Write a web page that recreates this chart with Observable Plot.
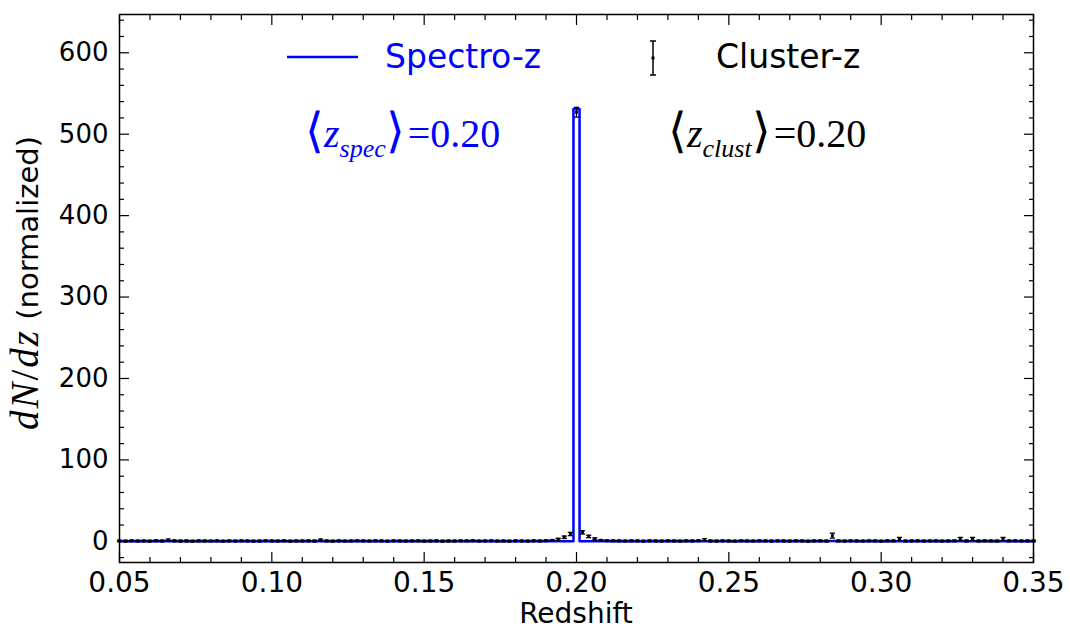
<!DOCTYPE html>
<html>
<head>
<meta charset="utf-8">
<script src="https://cdn.jsdelivr.net/npm/d3@7"></script>
<script src="https://cdn.jsdelivr.net/npm/@observablehq/plot@0.6"></script>
<style>
  html, body { margin: 0; padding: 0; background: white; }
  #wrap { position: relative; width: 1070px; height: 632px; }
  #overlay { position: absolute; left: 0; top: 0; pointer-events: none; }
</style>
</head>
<body>
<div id="wrap"></div>
<script>
// ---- data ----
const binCenters = [
  0.050,0.052,0.054,0.056,0.058,0.060,0.062,0.064,0.066,0.068,
  0.070,0.072,0.074,0.076,0.078,0.080,0.082,0.084,0.086,0.088,
  0.090,0.092,0.094,0.096,0.098,0.100,0.102,0.104,0.106,0.108,
  0.110,0.112,0.114,0.116,0.118,0.120,0.122,0.124,0.126,0.128,
  0.130,0.132,0.134,0.136,0.138,0.140,0.142,0.144,0.146,0.148,
  0.150,0.152,0.154,0.156,0.158,0.160,0.162,0.164,0.166,0.168,
  0.170,0.172,0.174,0.176,0.178,0.180,0.182,0.184,0.186,0.188,
  0.190,0.192,0.194,0.196,0.198,0.200,0.202,0.204,0.206,0.208,
  0.210,0.212,0.214,0.216,0.218,0.220,0.222,0.224,0.226,0.228,
  0.230,0.232,0.234,0.236,0.238,0.240,0.242,0.244,0.246,0.248,
  0.250,0.252,0.254,0.256,0.258,0.260,0.262,0.264,0.266,0.268,
  0.270,0.272,0.274,0.276,0.278,0.280,0.282,0.284,0.286,0.288,
  0.290,0.292,0.294,0.296,0.298,0.300,0.302,0.304,0.306,0.308,
  0.310,0.312,0.314,0.316,0.318,0.320,0.322,0.324,0.326,0.328,
  0.330,0.332,0.334,0.336,0.338,0.340,0.342,0.344,0.346,0.348,
  0.350
];
const binWidth = 0.002;

// Spectro-z normalized dN/dz (step histogram)
const spectroZ = [
  0,0,0,0,0,0,0,0,0,0,
  0,0,0,0,0,0,0,0,0,0,
  0,0,0,0,0,0,0,0,0,0,
  0,0,0,0,0,0,0,0,0,0,
  0,0,0,0,0,0,0,0,0,0,
  0,0,0,0,0,0,0,0,0,0,
  0,0,0,0,0,0,0,0,0,0,
  0,0,0,0,0,531,0,0,0,0,
  0,0,0,0,0,0,0,0,0,0,
  0,0,0,0,0,0,0,0,0,0,
  0,0,0,0,0,0,0,0,0,0,
  0,0,0,0,0,0,0,0.5,0,0,
  0,0,0,0,0,0,0,0,0,0,
  0,0,0,0,0,0,0,0,0,0,
  0,0,0,0,0,0,0,0,0,0,
  0
];

// Cluster-z normalized dN/dz and its errors
const clusterZ = [
  0.5,0.3,0.6,0.4,0.5,0.3,0.7,0.5,1.5,0.6,
  0.4,0.5,0.3,0.6,0.5,0.4,0.6,0.3,0.5,0.4,
  0.6,0.5,0.3,0.4,0.7,0.5,0.4,0.6,0.3,0.5,
  0.5,0.6,0.4,1.5,0.5,0.3,0.6,0.4,0.5,0.7,
  0.5,0.4,0.6,0.5,0.3,0.6,0.5,0.4,0.5,0.6,
  0.4,0.5,0.6,0.3,0.5,0.4,0.6,0.5,0.7,0.4,
  0.5,0.6,0.4,0.5,0.3,0.6,0.5,0.4,0.6,0.5,
  0.8,1.2,2.5,5,9,527,11,6,3,1.2,
  0.8,0.6,0.5,0.4,0.6,0.5,0.3,0.6,0.5,0.4,
  0.6,0.5,0.4,0.6,0.5,0.7,2,0.5,0.4,0.6,
  0.5,0.3,0.6,0.5,0.4,0.6,0.5,0.4,0.6,0.5,
  0.4,0.6,0.5,0.3,0.5,0.6,0.4,7,0.5,0.4,
  0.6,0.5,0.4,0.6,0.5,0.3,0.6,0.5,3,0.4,
  0.5,0.6,0.4,0.5,0.6,0.4,0.5,0.6,3,0.5,
  3,0.4,0.6,0.5,0.4,3,0.5,0.6,0.4,0.5,
  0.5
];
const clusterErr = [
  1,1,1,1,1,1,1,1,1.2,1,
  1,1,1,1,1,1,1,1,1,1,
  1,1,1,1,1,1,1,1,1,1,
  1,1,1,1.2,1,1,1,1,1,1,
  1,1,1,1,1,1,1,1,1,1,
  1,1,1,1,1,1,1,1,1,1,
  1,1,1,1,1,1,1,1,1,1,
  1,1,1.2,1.5,2,6,2,1.5,1.2,1,
  1,1,1,1,1,1,1,1,1,1,
  1,1,1,1,1,1,1.2,1,1,1,
  1,1,1,1,1,1,1,1,1,1,
  1,1,1,1,1,1,1,3,1,1,
  1,1,1,1,1,1,1,1,1.8,1,
  1,1,1,1,1,1,1,1,1.8,1,
  1.8,1,1,1,1,1.8,1,1,1,1,
  1
];

const xMajor = [0.05, 0.10, 0.15, 0.20, 0.25, 0.30, 0.35];
const xMinor = [0.06,0.07,0.08,0.09,0.11,0.12,0.13,0.14,0.16,0.17,0.18,0.19,0.21,0.22,0.23,0.24,0.26,0.27,0.28,0.29,0.31,0.32,0.33,0.34];
const yMajor = [0, 100, 200, 300, 400, 500, 600];
const yMinor = [-20,20,40,60,80,120,140,160,180,220,240,260,280,320,340,360,380,420,440,460,480,520,540,560,580,620,640];

const xDomain = [0.05, 0.35];
const yDomain = [-26, 647];

// ---- build tables ----
const stepPts = binCenters.map((c, i) => ({x: c - binWidth / 2, y: spectroZ[i]}));
stepPts.push({x: binCenters[binCenters.length - 1] + binWidth / 2, y: spectroZ[spectroZ.length - 1]});
const cluster = binCenters.map((c, i) => ({z: c, v: clusterZ[i], lo: clusterZ[i] - clusterErr[i], hi: clusterZ[i] + clusterErr[i]}));

const capSymbol = {draw(ctx, size) { const w = Math.sqrt(size / Math.PI); ctx.moveTo(-w, 0); ctx.lineTo(w, 0); }};

const blue = "#0000ff";
const tickCommon = {stroke: "black", strokeWidth: 1.2, fill: "none", label: null};

const chart = Plot.plot({
  width: 1070, height: 632,
  marginLeft: 119, marginRight: 37, marginTop: 14, marginBottom: 70,
  x: {domain: xDomain},
  y: {domain: yDomain},
  style: {fontFamily: "DejaVu Sans", background: "white", color: "black", overflow: "visible"},
  marks: [
    Plot.line(stepPts, {x: "x", y: "y", curve: "step-after", stroke: blue, strokeWidth: 2.5, clip: true}),
    Plot.ruleX(cluster, {x: "z", y1: "lo", y2: "hi", stroke: "black", strokeWidth: 1.3}),
    Plot.dot(cluster, {x: "z", y: "lo", symbol: capSymbol, r: 2.6, stroke: "black", strokeWidth: 1.3, fill: "none"}),
    Plot.dot(cluster, {x: "z", y: "hi", symbol: capSymbol, r: 2.6, stroke: "black", strokeWidth: 1.3, fill: "none"}),
    Plot.dot(cluster, {x: "z", y: "v", symbol: "square", r: 1.6, fill: "black"}),
    // tick labels
    Plot.axisX(xMajor, {tickSize: 0, tickPadding: 10, tickFormat: d3.format(".2f"), fontSize: 28, label: null}),
    Plot.axisY(yMajor, {tickSize: 0, tickPadding: 11, tickFormat: d3.format("d"), fontSize: 26, label: null}),
    // inward ticks on all four sides
    Plot.axisX(xMajor, {...tickCommon, anchor: "bottom", tickSize: -10}),
    Plot.axisX(xMinor, {...tickCommon, anchor: "bottom", tickSize: -5}),
    Plot.axisX(xMajor, {...tickCommon, anchor: "top", tickSize: -10}),
    Plot.axisX(xMinor, {...tickCommon, anchor: "top", tickSize: -5}),
    Plot.axisY(yMajor, {...tickCommon, anchor: "left", tickSize: -10}),
    Plot.axisY(yMinor, {...tickCommon, anchor: "left", tickSize: -5}),
    Plot.axisY(yMajor, {...tickCommon, anchor: "right", tickSize: -10}),
    Plot.axisY(yMinor, {...tickCommon, anchor: "right", tickSize: -5}),
    Plot.frame({stroke: "black", strokeWidth: 1.5})
  ]
});

const wrap = document.getElementById("wrap");
wrap.appendChild(chart);

// ---- legend, annotations and axis titles ----
const NS = "http://www.w3.org/2000/svg";
const ov = document.createElementNS(NS, "svg");
ov.setAttribute("id", "overlay");
ov.setAttribute("width", 1070);
ov.setAttribute("height", 632);
ov.innerHTML = `
  <line x1="287" x2="358" y1="57" y2="57" stroke="${blue}" stroke-width="2.5"/>
  <text x="385" y="68" font-family="DejaVu Sans" font-size="33" fill="${blue}">Spectro-z</text>
  <line x1="653" x2="653" y1="41" y2="75" stroke="black" stroke-width="1.5"/>
  <line x1="650" x2="656" y1="41" y2="41" stroke="black" stroke-width="1.5"/>
  <line x1="650" x2="656" y1="75" y2="75" stroke="black" stroke-width="1.5"/>
  <rect x="651.5" y="56.5" width="3" height="3" fill="black"/>
  <text x="716" y="68" font-family="DejaVu Sans" font-size="33" fill="black">Cluster-z</text>

  <text x="305" y="147" fill="${blue}" font-family="Liberation Serif" font-size="40"><tspan font-family="DejaVu Sans" font-weight="200" font-size="48">⟨</tspan><tspan font-style="italic">z</tspan><tspan font-style="italic" font-size="26" dy="10">spec</tspan><tspan font-family="DejaVu Sans" font-weight="200" font-size="48" dy="-10">⟩</tspan><tspan dx="3">=0.20</tspan></text>
  <text x="668" y="147" fill="black" font-family="Liberation Serif" font-size="40"><tspan font-family="DejaVu Sans" font-weight="200" font-size="48">⟨</tspan><tspan font-style="italic">z</tspan><tspan font-style="italic" font-size="26" dy="10">clust</tspan><tspan font-family="DejaVu Sans" font-weight="200" font-size="48" dy="-10">⟩</tspan><tspan dx="3">=0.20</tspan></text>

  <text x="576" y="623" text-anchor="middle" font-family="DejaVu Sans" font-size="28" fill="black">Redshift</text>
  <text transform="translate(38,283) rotate(-90)" text-anchor="middle" font-family="DejaVu Sans" font-size="29" fill="black"><tspan font-family="Liberation Serif" font-style="italic" font-size="39" letter-spacing="2">dN</tspan><tspan font-family="Liberation Serif" font-size="39" letter-spacing="2">/</tspan><tspan font-family="Liberation Serif" font-style="italic" font-size="39" letter-spacing="2">dz</tspan> (normalized)</text>
`;
wrap.appendChild(ov);
</script>
</body>
</html>
